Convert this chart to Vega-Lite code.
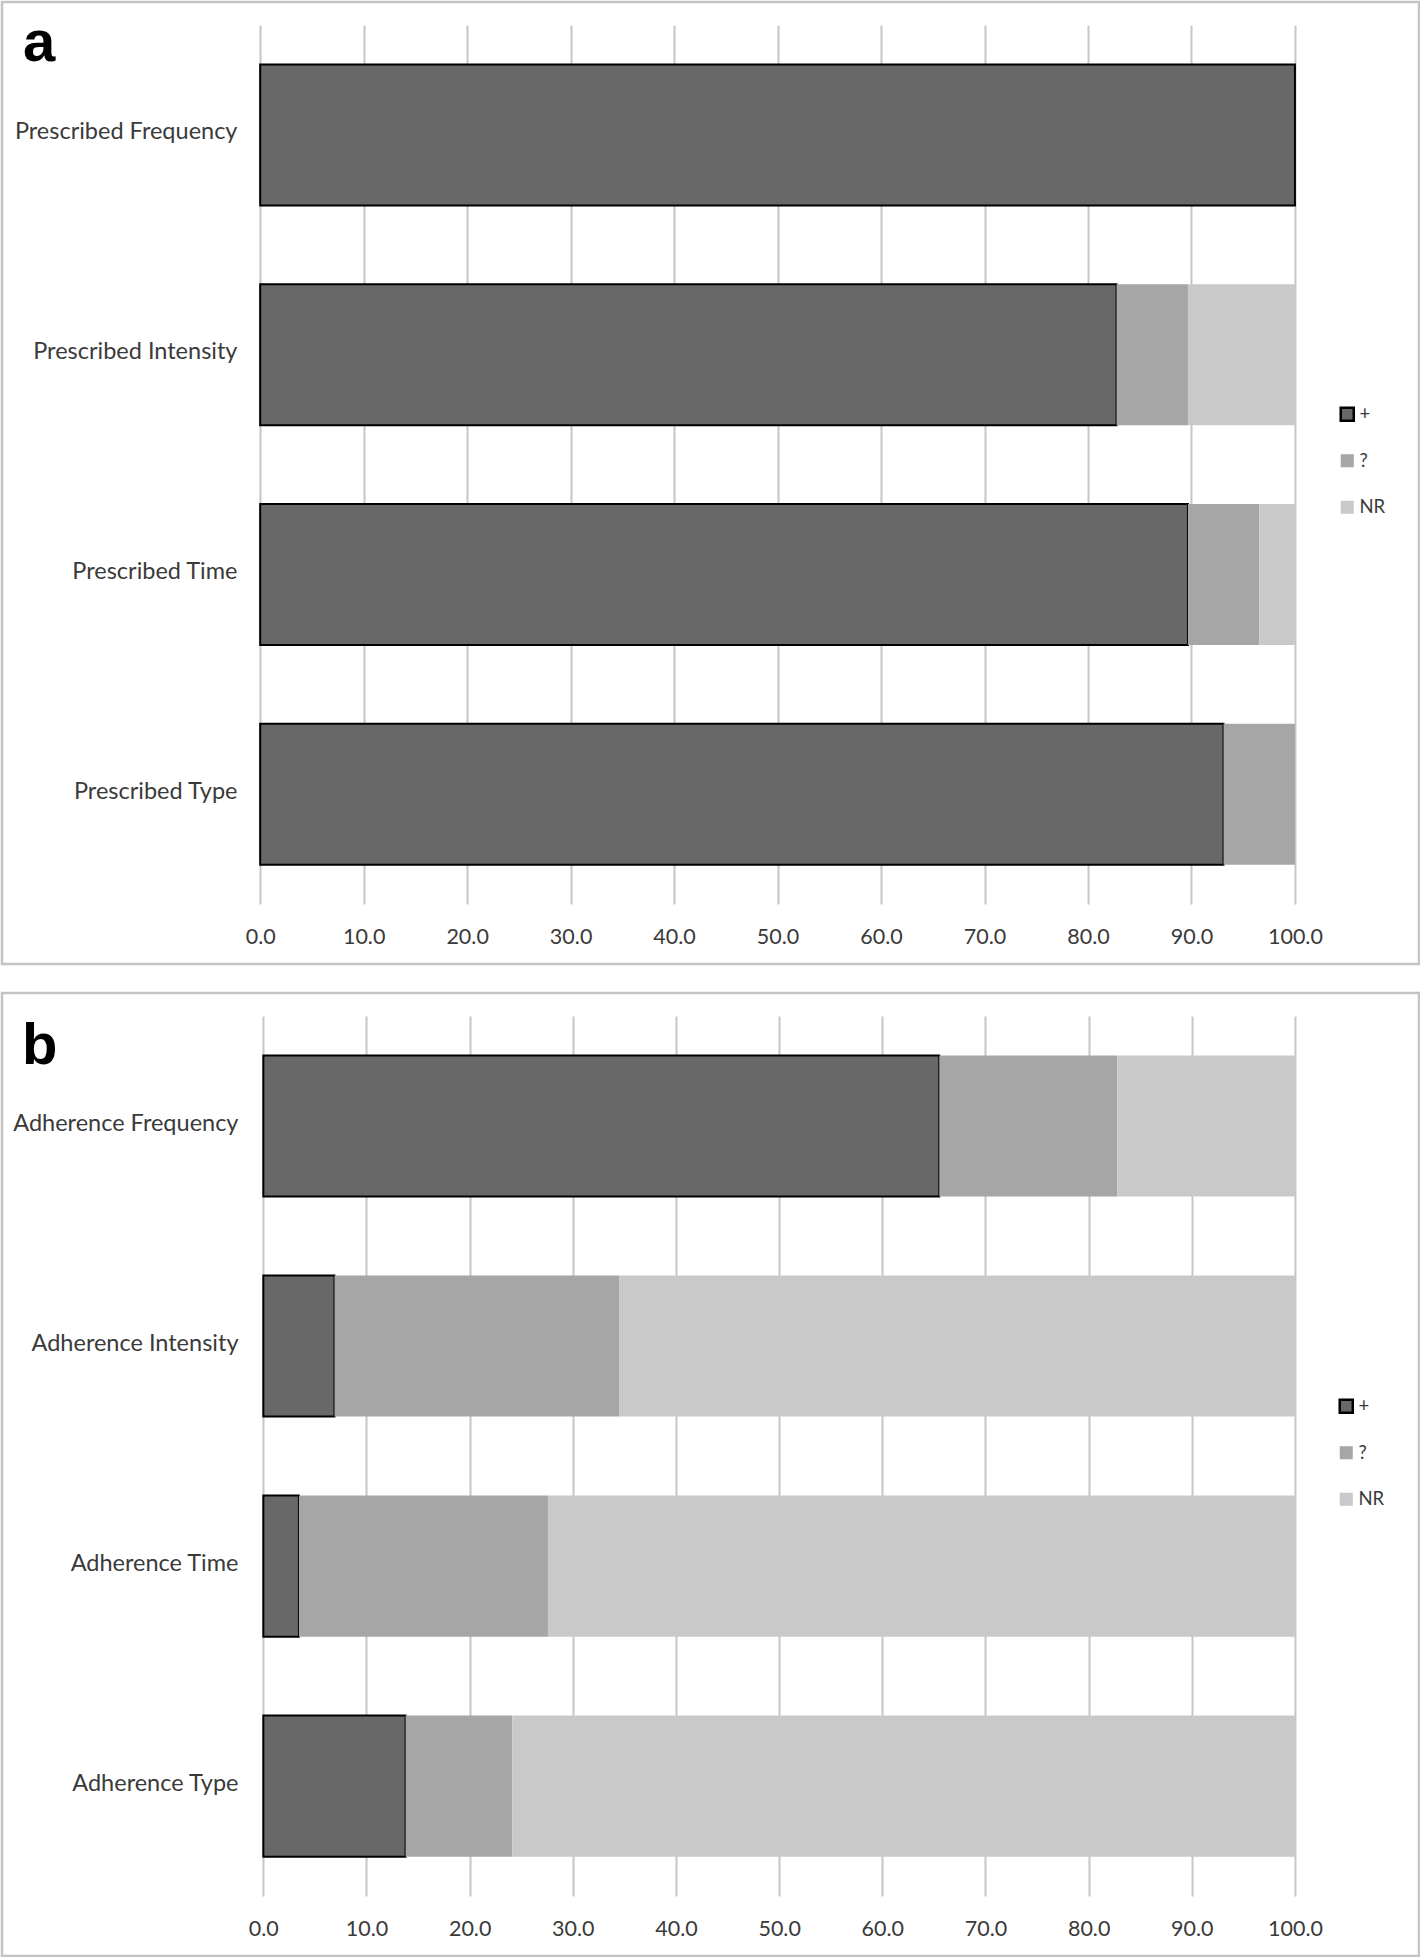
{
  "$schema": "https://vega.github.io/schema/vega-lite/v6.json",
  "padding": 0,
  "background": "white",
  "bounds": "flush",
  "spacing": 29,
  "config": {
    "view": {"stroke": "#c4c4c4", "strokeWidth": 2.5},
    "font": "Lato"
  },
  "resolve": {
    "scale": {"color": "independent", "stroke": "independent"},
    "legend": {"color": "independent", "stroke": "independent"}
  },
  "datasets": {
    "prescribed": [
      {"item": "Prescribed Frequency", "rating": "+", "pct": 100},
      {"item": "Prescribed Intensity", "rating": "+", "pct": 82.76},
      {"item": "Prescribed Intensity", "rating": "?", "pct": 6.9},
      {"item": "Prescribed Intensity", "rating": "NR", "pct": 10.34},
      {"item": "Prescribed Time", "rating": "+", "pct": 89.66},
      {"item": "Prescribed Time", "rating": "?", "pct": 6.9},
      {"item": "Prescribed Time", "rating": "NR", "pct": 3.44},
      {"item": "Prescribed Type", "rating": "+", "pct": 93.1},
      {"item": "Prescribed Type", "rating": "?", "pct": 6.9}
    ],
    "adherence": [
      {"item": "Adherence Frequency", "rating": "+", "pct": 65.52},
      {"item": "Adherence Frequency", "rating": "?", "pct": 17.24},
      {"item": "Adherence Frequency", "rating": "NR", "pct": 17.24},
      {"item": "Adherence Intensity", "rating": "+", "pct": 6.9},
      {"item": "Adherence Intensity", "rating": "?", "pct": 27.58},
      {"item": "Adherence Intensity", "rating": "NR", "pct": 65.52},
      {"item": "Adherence Time", "rating": "+", "pct": 3.45},
      {"item": "Adherence Time", "rating": "?", "pct": 24.14},
      {"item": "Adherence Time", "rating": "NR", "pct": 72.41},
      {"item": "Adherence Type", "rating": "+", "pct": 13.79},
      {"item": "Adherence Type", "rating": "?", "pct": 10.35},
      {"item": "Adherence Type", "rating": "NR", "pct": 75.86}
    ]
  },
  "vconcat": [
    {
      "width": 1417,
      "height": 962,
      "data": {"name": "prescribed"},
      "title": {"text": "a", "anchor": "start", "frame": "group", "orient": "top", "font": "Liberation Sans", "fontSize": 58, "fontWeight": "bold", "color": "#000000", "baseline": "alphabetic", "offset": -117, "dx": 21},
      "encoding": {
        "y": {
          "field": "item", "type": "nominal",
          "sort": ["Prescribed Frequency", "Prescribed Intensity", "Prescribed Time", "Prescribed Type"],
          "scale": {"paddingInner": 0.3585, "paddingOuter": 0.3676, "align": 0.386},
          "axis": {"orient": "left", "offset": -235, "title": null, "domain": false, "ticks": false, "labelPadding": 0, "labelOffset": -2.5, "labelFont": "Lato", "labelFontSize": 23.5, "labelColor": "#3a3a3a", "labelLimit": 400}
        }
      },
      "layer": [
        {
          "mark": {"type": "bar", "strokeWidth": 2},
          "encoding": {
            "x": {"field": "pct", "type": "quantitative", "stack": "zero",
              "scale": {"domain": [-24.95, 111.99], "nice": false, "zero": false},
              "axis": {"orient": "bottom", "offset": -60, "values": [0, 10, 20, 30, 40, 50, 60, 70, 80, 90, 100], "labels": false, "domain": false, "grid": false, "ticks": true, "tickSize": -879, "tickColor": "#c6c6c6", "tickWidth": 2, "title": null, "zindex": 0}
            },
            "color": {"field": "rating", "type": "nominal",
              "scale": {"domain": ["+", "?", "NR"], "range": ["#686868", "#a6a6a6", "#c9c9c9"]},
              "legend": {"orient": "none", "legendX": 1336, "legendY": 403, "title": null, "symbolType": "square", "symbolSize": 170, "symbolStrokeWidth": 2.5, "labelFont": "Lato", "labelFontSize": 18.5, "labelColor": "#3a3a3a", "labelOffset": 3, "rowPadding": 22.5, "padding": 0}
            },
            "stroke": {"field": "rating", "type": "nominal",
              "scale": {"domain": ["+", "?", "NR"], "range": ["#000000", "transparent", "transparent"]},
              "legend": {"orient": "none", "legendX": 1336, "legendY": 403, "title": null, "symbolType": "square", "symbolSize": 170, "symbolStrokeWidth": 2.5, "labelFont": "Lato", "labelFontSize": 18.5, "labelColor": "#3a3a3a", "labelOffset": 3, "rowPadding": 22.5, "padding": 0}
            }
          }
        },
        {
          "mark": {"type": "bar", "opacity": 0},
          "encoding": {
            "x": {"field": "pct", "type": "quantitative",
              "scale": {"domain": [-24.95, 111.99], "nice": false, "zero": false},
              "axis": {"orient": "bottom", "offset": -60, "values": [0, 10, 20, 30, 40, 50, 60, 70, 80, 90, 100], "format": ".1f", "domain": false, "grid": false, "ticks": false, "tickSize": 0, "labelPadding": 22.5, "labelFont": "Lato", "labelFontSize": 21.5, "labelColor": "#3a3a3a", "title": null}
            }
          }
        }
      ],
      "resolve": {"axis": {"x": "independent"}}
    },
    {
      "width": 1417,
      "height": 963,
      "data": {"name": "adherence"},
      "title": {"text": "b", "anchor": "start", "frame": "group", "orient": "top", "font": "Liberation Sans", "fontSize": 58, "fontWeight": "bold", "color": "#000000", "baseline": "alphabetic", "offset": -129, "dx": 20},
      "encoding": {
        "y": {
          "field": "item", "type": "nominal",
          "sort": ["Adherence Frequency", "Adherence Intensity", "Adherence Time", "Adherence Type"],
          "scale": {"paddingInner": 0.3585, "paddingOuter": 0.3676, "align": 0.386},
          "axis": {"orient": "left", "offset": -236, "title": null, "domain": false, "ticks": false, "labelPadding": 0, "labelOffset": -2.5, "labelFont": "Lato", "labelFontSize": 23.5, "labelColor": "#3a3a3a", "labelLimit": 400}
        }
      },
      "layer": [
        {
          "mark": {"type": "bar", "strokeWidth": 2},
          "encoding": {
            "x": {"field": "pct", "type": "quantitative", "stack": "zero",
              "scale": {"domain": [-25.33, 112.02], "nice": false, "zero": false},
              "axis": {"orient": "bottom", "offset": -60, "values": [0, 10, 20, 30, 40, 50, 60, 70, 80, 90, 100], "labels": false, "domain": false, "grid": false, "ticks": true, "tickSize": -880, "tickColor": "#c6c6c6", "tickWidth": 2, "title": null, "zindex": 0}
            },
            "color": {"field": "rating", "type": "nominal",
              "scale": {"domain": ["+", "?", "NR"], "range": ["#686868", "#a6a6a6", "#c9c9c9"]},
              "legend": {"orient": "none", "legendX": 1335, "legendY": 404, "title": null, "symbolType": "square", "symbolSize": 170, "symbolStrokeWidth": 2.5, "labelFont": "Lato", "labelFontSize": 18.5, "labelColor": "#3a3a3a", "labelOffset": 3, "rowPadding": 22.5, "padding": 0}
            },
            "stroke": {"field": "rating", "type": "nominal",
              "scale": {"domain": ["+", "?", "NR"], "range": ["#000000", "transparent", "transparent"]},
              "legend": {"orient": "none", "legendX": 1335, "legendY": 404, "title": null, "symbolType": "square", "symbolSize": 170, "symbolStrokeWidth": 2.5, "labelFont": "Lato", "labelFontSize": 18.5, "labelColor": "#3a3a3a", "labelOffset": 3, "rowPadding": 22.5, "padding": 0}
            }
          }
        },
        {
          "mark": {"type": "bar", "opacity": 0},
          "encoding": {
            "x": {"field": "pct", "type": "quantitative",
              "scale": {"domain": [-25.33, 112.02], "nice": false, "zero": false},
              "axis": {"orient": "bottom", "offset": -60, "values": [0, 10, 20, 30, 40, 50, 60, 70, 80, 90, 100], "format": ".1f", "domain": false, "grid": false, "ticks": false, "tickSize": 0, "labelPadding": 22.5, "labelFont": "Lato", "labelFontSize": 21.5, "labelColor": "#3a3a3a", "title": null}
            }
          }
        }
      ],
      "resolve": {"axis": {"x": "independent"}}
    }
  ]
}
